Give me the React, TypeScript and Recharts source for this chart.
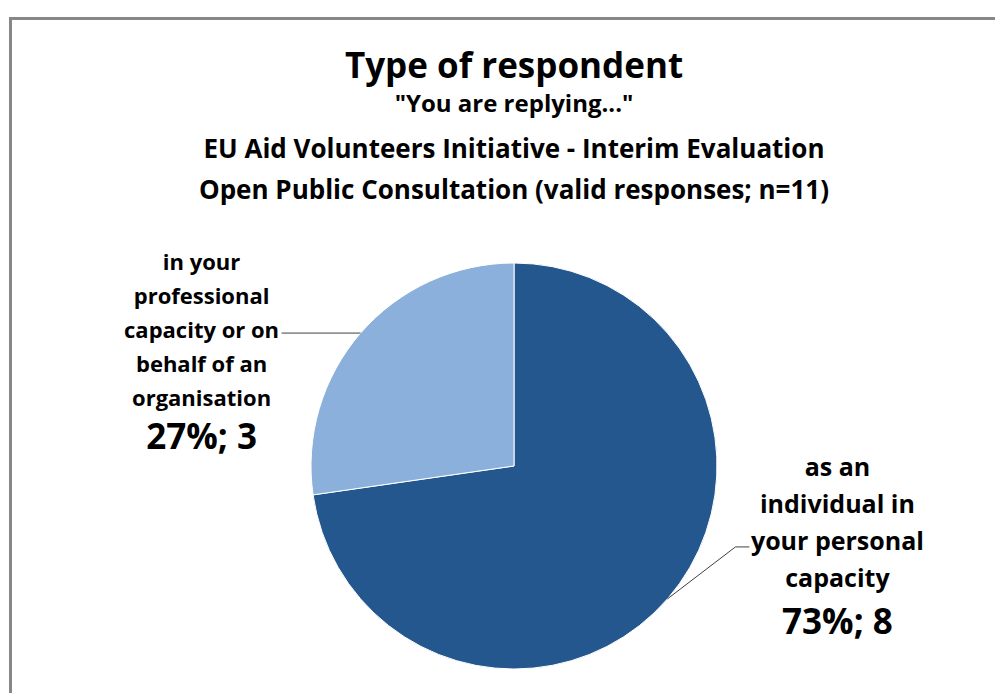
import { Cell, Pie, PieChart } from "recharts";

const categories = [
  "as an individual in your personal capacity",
  "in your professional capacity or on behalf of an organisation",
];
const counts = [8, 3];
const percents = ["73%", "27%"];
const labelLines = [
  ["as an", "individual in", "your personal", "capacity"],
  ["in your", "professional", "capacity or on", "behalf of an", "organisation"],
];
const chartTitle = "Type of respondent";
const titleLines = [
  '"You are replying..."',
  "EU Aid Volunteers Initiative - Interim Evaluation",
  "Open Public Consultation (valid responses; n=11)",
];

const COLORS = ["#24578d", "#8cb0dc"];
const FONT = "'Open Sans', 'Noto Sans', sans-serif";

const data = categories.map((name, i) => ({ name, value: counts[i] }));

const RAD = Math.PI / 180;

function renderLabel(props: any) {
  const { cx, cy, midAngle, outerRadius, index } = props;
  const ex = cx + outerRadius * Math.cos(-midAngle * RAD);
  const ey = cy + outerRadius * Math.sin(-midAngle * RAD);
  const lines = labelLines[index];
  const big = `${percents[index]}; ${counts[index]}`;
  if (index === 0) {
    // right side: angled leader then short horizontal
    const bx = ex + 68;
    const by = ey - 52;
    const tx = bx + 14 + 88;
    const y0 = by - 81;
    return (
      <g>
        <polyline points={`${ex},${ey} ${bx},${by} ${bx + 14},${by}`} fill="none" stroke="#404040" strokeWidth={1} />
        <text x={tx} textAnchor="middle" fontFamily={FONT} fontWeight={700} fill="#000" fontSize={25}>
          {lines.map((l, i) => (
            <tspan key={i} x={tx} y={y0 + i * 37} dominantBaseline="central">{l}</tspan>
          ))}
        </text>
        <text x={tx} y={y0 + 4 * 37 + 7} textAnchor="middle" dominantBaseline="central" fontFamily={FONT} fontWeight={700} fontSize={35} fill="#000">{big}</text>
      </g>
    );
  }
  const endX = ex - 79;
  const tx = endX - 80;
  const y0 = ey - 72;
  return (
    <g>
      <polyline points={`${ex},${ey} ${endX},${ey}`} fill="none" stroke="#404040" strokeWidth={1} />
      <text x={tx} textAnchor="middle" fontFamily={FONT} fontWeight={700} fill="#000" fontSize={22}>
        {lines.map((l, i) => (
          <tspan key={i} x={tx} y={y0 + i * 34} dominantBaseline="central">{l}</tspan>
        ))}
      </text>
      <text x={tx} y={y0 + 5 * 34 + 4} textAnchor="middle" dominantBaseline="central" fontFamily={FONT} fontWeight={700} fontSize={35} fill="#000">{big}</text>
    </g>
  );
}

const lineStyle = (top: number, size: number) => ({
  position: "absolute" as const,
  left: 0,
  width: 1012,
  top,
  height: 40,
  lineHeight: "40px",
  textAlign: "center" as const,
  fontWeight: 700,
  fontSize: size,
  color: "#000",
  whiteSpace: "nowrap" as const,
});

export default function App() {
  return (
    <div style={{ position: "relative", width: 995, height: 685, overflow: "hidden", fontFamily: FONT }}>
      <div style={{ position: "absolute", left: 1, top: 9, width: 1100, height: 800, border: "3px solid #878787", background: "#fff" }} />
      <div style={{ position: "absolute", left: 0, top: 0 }}>
        <PieChart width={995} height={685}>
          <Pie
            data={data}
            dataKey="value"
            cx={501}
            cy={453}
            outerRadius={203}
            startAngle={90}
            endAngle={-270}
            stroke="#fff"
            strokeWidth={1}
            labelLine={false}
            label={renderLabel}
            isAnimationActive={false}
          >
            {data.map((_, i) => (
              <Cell key={i} fill={COLORS[i]} />
            ))}
          </Pie>
        </PieChart>
      </div>
      <div style={lineStyle(37, 35)}>{chartTitle}</div>
      <div style={lineStyle(75, 24)}>{titleLines[0]}</div>
      <div style={lineStyle(120, 26)}>{titleLines[1]}</div>
      <div style={lineStyle(161, 26)}>{titleLines[2]}</div>
    </div>
  );
}
